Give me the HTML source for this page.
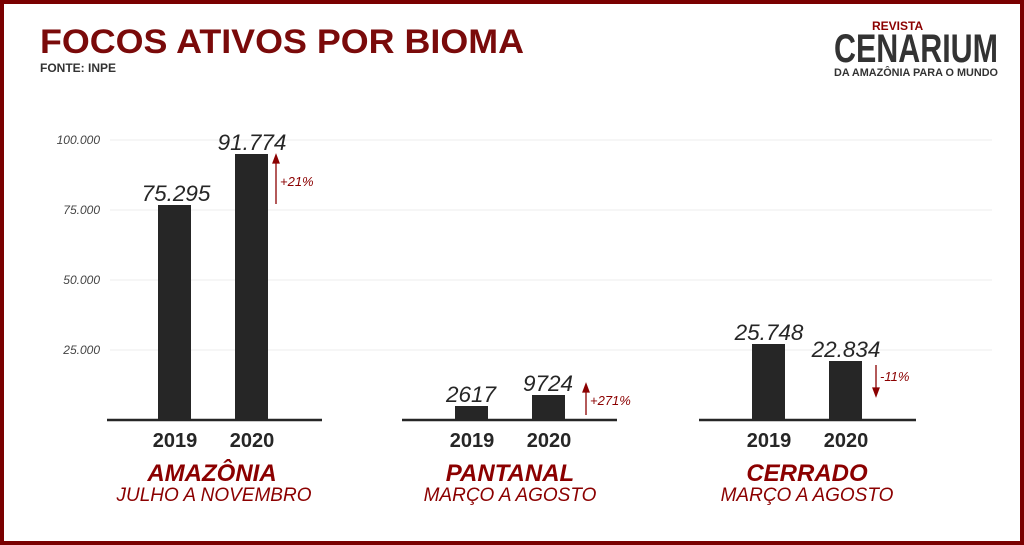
<!DOCTYPE html>
<html><head><meta charset="utf-8"><style>
html,body{margin:0;padding:0;background:#fff}
svg{display:block}
</style></head><body>
<svg width="1024" height="545" viewBox="0 0 1024 545" xmlns="http://www.w3.org/2000/svg" font-family="Liberation Sans, sans-serif">
<rect x="2" y="2" width="1020" height="541" fill="#fff" stroke="#7a0000" stroke-width="4"/>
<text x="40" y="53" font-size="34" font-weight="bold" fill="#7a0a0a" textLength="484" lengthAdjust="spacingAndGlyphs">FOCOS ATIVOS POR BIOMA</text>
<text x="40" y="72" font-size="12" fill="#333" font-weight="bold">FONTE: INPE</text>
<text x="872" y="30" font-size="12" fill="#8b0000" font-weight="bold">REVISTA</text>
<text x="834" y="62" font-size="40" fill="#333" font-weight="bold" textLength="164" lengthAdjust="spacingAndGlyphs">CENARIUM</text>
<text x="834" y="76" font-size="11" fill="#333" font-weight="bold" textLength="164" lengthAdjust="spacingAndGlyphs">DA AMAZÔNIA PARA O MUNDO</text>
<g stroke="#eee" stroke-width="1">
<line x1="110" y1="140" x2="992" y2="140"/>
<line x1="110" y1="210" x2="992" y2="210"/>
<line x1="110" y1="280" x2="992" y2="280"/>
<line x1="110" y1="350" x2="992" y2="350"/>
</g>
<g font-size="12" font-style="italic" fill="#444" text-anchor="end">
<text x="100" y="144">100.000</text>
<text x="100" y="214">75.000</text>
<text x="100" y="284">50.000</text>
<text x="100" y="354">25.000</text>
</g>
<g fill="#262626">
<rect x="158" y="205" width="33" height="215"/>
<rect x="235" y="154" width="33" height="266"/>
<rect x="455" y="406" width="33" height="14"/>
<rect x="532" y="395" width="33" height="25"/>
<rect x="752" y="344" width="33" height="76"/>
<rect x="829" y="361" width="33" height="59"/>
</g>
<g stroke="#262626" stroke-width="2.5">
<line x1="107" y1="420" x2="322" y2="420"/>
<line x1="402" y1="420" x2="617" y2="420"/>
<line x1="699" y1="420" x2="916" y2="420"/>
</g>
<g font-size="22.5" font-style="italic" fill="#262626" text-anchor="middle">
<text x="176" y="201">75.295</text>
<text x="252" y="150">91.774</text>
<text x="471" y="402">2617</text>
<text x="548" y="391">9724</text>
<text x="769" y="340">25.748</text>
<text x="846" y="357">22.834</text>
</g>
<g stroke="#8b0000" stroke-width="1.3" fill="#8b0000">
<line x1="276" y1="160" x2="276" y2="204"/><path d="M273,163 L276,155 L279,163Z"/>
<line x1="586" y1="390" x2="586" y2="415"/><path d="M583,392 L586,384 L589,392Z"/>
<line x1="876" y1="365" x2="876" y2="390"/><path d="M873,388 L876,396 L879,388Z"/>
</g>
<g font-size="13" font-style="italic" fill="#8b0000">
<text x="280" y="186">+21%</text>
<text x="590" y="405">+271%</text>
<text x="880" y="381">-11%</text>
</g>
<g font-size="20" font-weight="bold" fill="#262626" text-anchor="middle">
<text x="175" y="447">2019</text><text x="252" y="447">2020</text>
<text x="472" y="447">2019</text><text x="549" y="447">2020</text>
<text x="769" y="447">2019</text><text x="846" y="447">2020</text>
</g>
<g font-size="24" font-weight="bold" font-style="italic" fill="#8b0000" text-anchor="middle">
<text x="212" y="481">AMAZÔNIA</text>
<text x="510" y="481">PANTANAL</text>
<text x="807" y="481">CERRADO</text>
</g>
<g font-size="19" font-style="italic" fill="#8b0000" text-anchor="middle">
<text x="214" y="501">JULHO A NOVEMBRO</text>
<text x="510" y="501">MARÇO A AGOSTO</text>
<text x="807" y="501">MARÇO A AGOSTO</text>
</g>
</svg>
</body></html>
